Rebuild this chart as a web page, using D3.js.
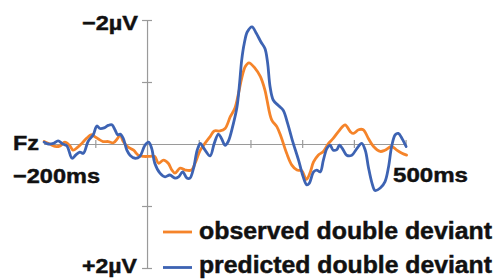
<!DOCTYPE html>
<html>
<head>
<meta charset="utf-8">
<script src="https://cdn.jsdelivr.net/npm/d3@7"></script>
<style>
  html, body { margin: 0; padding: 0; background: #fff; }
  svg { display: block; }
  text { font-family: Arial, "Liberation Sans", Helvetica, sans-serif; font-weight: bold; fill: #111; stroke: #111; stroke-width: 0.45px; }
</style>
</head>
<body>
<svg id="chart" width="496" height="279"></svg>
<script>
// ---- data (time in ms, amplitude in µV; negative plotted upward) ----
const observedTimes = [-199,-188,-178,-168,-159,-150,-143,-135,-126,-117,-107,-101,-94,-85,-75,-65,-57,-52,-46,-38,-26,-17,-7,6,15,22,32,41,48,54,64,74,86,93,103,112,122,130,141,151,161,170,177,183,190,197,209,219,228,232,241,251,259,270,280,290,299,308,315,322,331,341,351,360,373,383,393,399,409,418,428,438,451,460,473,483,493,502];
const observedValues = [-0.04,0.00,0.04,0.03,-0.03,0.02,0.10,0.06,-0.01,-0.09,-0.15,-0.12,-0.08,-0.04,-0.04,-0.02,-0.09,-0.15,-0.04,0.04,0.10,0.18,0.20,0.20,0.20,0.31,0.26,0.31,0.42,0.47,0.39,0.42,0.42,0.31,0.10,-0.01,-0.12,-0.21,-0.21,-0.25,-0.44,-0.58,-0.82,-1.06,-1.25,-1.31,-1.22,-1.09,-0.87,-0.71,-0.39,-0.28,-0.12,0.15,0.34,0.42,0.43,0.57,0.47,0.29,0.18,0.12,-0.01,-0.09,-0.23,-0.31,-0.20,-0.17,-0.23,-0.23,-0.09,0.04,0.12,0.10,0.04,0.10,0.15,0.18];

const predictedTimes = [-199,-191,-181,-172,-163,-155,-145,-138,-130,-123,-114,-104,-97,-91,-83,-75,-68,-62,-57,-52,-46,-39,-33,-23,-14,-4,3,9,15,25,35,44,54,61,69,77,83,90,97,103,110,122,130,138,144,151,157,167,174,179,183,188,194,203,211,220,228,233,238,244,254,263,272,281,293,302,309,314,322,328,335,341,348,354,360,367,372,379,386,396,406,415,422,428,435,441,451,460,467,473,480,486,493,501];
const predictedValues = [-0.03,0.00,-0.01,-0.05,0.00,0.03,0.23,0.18,0.13,0.15,-0.04,-0.15,-0.29,-0.25,-0.26,-0.30,-0.31,-0.23,-0.15,-0.16,-0.09,0.10,0.18,0.23,0.20,0.02,-0.03,0.07,0.31,0.47,0.53,0.50,0.55,0.53,0.45,0.55,0.55,0.39,0.10,-0.01,0.07,0.19,-0.01,-0.16,-0.09,0.02,-0.04,-0.33,-0.60,-0.98,-1.35,-1.62,-1.81,-1.89,-1.79,-1.65,-1.54,-1.32,-0.92,-0.71,-0.62,-0.55,-0.33,-0.06,0.26,0.53,0.66,0.63,0.45,0.42,0.45,0.26,0.07,0.02,0.10,0.09,0.02,0.09,0.18,0.18,0.07,-0.01,0.10,0.37,0.63,0.75,0.71,0.61,0.37,0.04,-0.15,-0.17,-0.09,0.04];

const xTicks = [-100, 100, 200, 300, 400, 500];
const yTicks = [-2, -1, 0, 1, 2];
const legendLabels = ["observed double deviant", "predicted double deviant"];
const seriesColors = ["#F5842A", "#3D63B3"];

// ---- layout ----
const svg = d3.select("#chart");
const x = d3.scaleLinear().domain([-200, 500]).range([43.6, 405.6]);
const y = d3.scaleLinear().domain([-2, 2]).range([20, 268]);
const axisColor = "#9a9a9a";

// x axis (line at 0 µV, ticks crossing)
const xAxis = svg.append("g")
  .attr("transform", `translate(0,${y(0)})`)
  .call(d3.axisBottom(x).tickValues(xTicks).tickSize(4).tickSizeOuter(0).tickFormat(""));
xAxis.select(".domain").attr("stroke", axisColor).attr("stroke-width", 1.2);
xAxis.selectAll(".tick line").attr("stroke", axisColor).attr("stroke-width", 1.2).attr("y1", -4).attr("y2", 4);

// y axis at 0 ms
const yAxis = svg.append("g")
  .attr("transform", `translate(${x(0)},0)`)
  .call(d3.axisLeft(y).tickValues(yTicks).tickSize(5).tickSizeOuter(0).tickFormat(""));
yAxis.select(".domain").attr("stroke", axisColor).attr("stroke-width", 1.2);
yAxis.selectAll(".tick line").attr("stroke", axisColor).attr("stroke-width", 1.2).attr("x1", -5).attr("x2", 5);

// curves
const line = d3.line()
  .x(d => x(d[0]))
  .y(d => y(d[1]))
  .curve(d3.curveCatmullRom.alpha(0.5));

const series = [
  d3.zip(observedTimes, observedValues),
  d3.zip(predictedTimes, predictedValues)
];
series.forEach((s, i) => {
  svg.append("path")
    .datum(s)
    .attr("fill", "none")
    .attr("stroke", seriesColors[i])
    .attr("stroke-width", 2.8)
    .attr("stroke-linejoin", "round")
    .attr("stroke-linecap", "round")
    .attr("d", line);
});

// labels
function label(txt, px, py, size, len, anchor) {
  svg.append("text")
    .attr("x", px).attr("y", py)
    .attr("font-size", size)
    .attr("text-anchor", anchor || "start")
    .attr("textLength", len)
    .attr("lengthAdjust", "spacingAndGlyphs")
    .text(txt);
}
label("\u22122\u00b5V", 82, 29.5, 21, 56);
label("Fz", 13, 150, 20.5, 26);
label("\u2212200ms", 13, 182.5, 20.5, 87);
label("500ms", 393, 181.5, 20.5, 75);
label("+2\u00b5V", 82, 273, 21, 55);

// legend
legendLabels.forEach((t, i) => {
  const ly = [232, 267.5][i];
  svg.append("line")
    .attr("x1", 163).attr("x2", 192)
    .attr("y1", ly).attr("y2", ly)
    .attr("stroke", seriesColors[i])
    .attr("stroke-width", 2.8);
  label(t, 199, [239, 273][i], 23, 293);
});
</script>
</body>
</html>
